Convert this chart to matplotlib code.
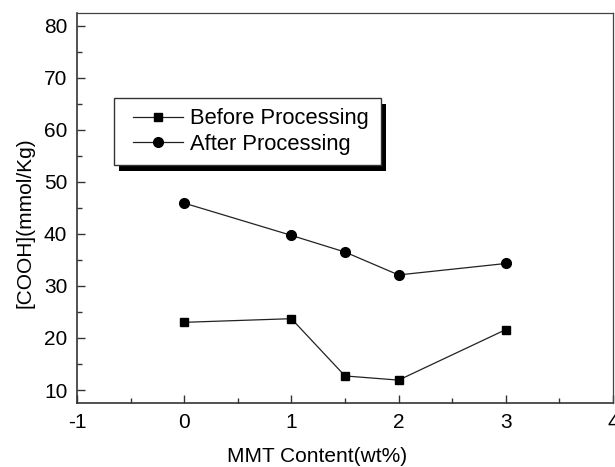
import matplotlib
matplotlib.use('Agg')
import matplotlib.pyplot as plt
from matplotlib.patches import Rectangle
from matplotlib.ticker import MultipleLocator

plt.rcParams['font.family'] = ['Liberation Sans', 'DejaVu Sans']
plt.rcParams['axes.unicode_minus'] = False

mmt = [0, 1, 1.5, 2, 3]
before = [23.0, 23.7, 12.7, 11.9, 21.6]
after = [45.9, 39.7, 36.5, 32.1, 34.3]

fig = plt.figure(figsize=(6.15, 4.67), dpi=100)
ax = fig.add_axes([0.1252, 0.137, 0.8715, 0.835])

ax.plot(mmt, before, marker='s', color='#222222', mfc='black', mec='black',
        ms=6, lw=0.9, label='Before Processing')
ax.plot(mmt, after, marker='o', color='#222222', mfc='black', mec='black',
        ms=7, lw=0.9, label='After Processing')

ax.set_xlim(-1, 4)
ax.set_ylim(7.5, 82.4)
ax.xaxis.set_major_locator(MultipleLocator(1))
ax.xaxis.set_minor_locator(MultipleLocator(0.5))
ax.yaxis.set_minor_locator(MultipleLocator(5))
ax.set_yticks(range(10, 81, 10))

ax.tick_params(which='both', direction='in', top=False, right=False,
               labelsize=15, width=1, color='#333333')
ax.tick_params(which='major', length=6, pad=7)
ax.tick_params(which='minor', length=3.5)

for side in ['top', 'right']:
    ax.spines[side].set_linewidth(0.9)
    ax.spines[side].set_color('#444444')
for side in ['left', 'bottom']:
    ax.spines[side].set_linewidth(1.2)
    ax.spines[side].set_color('#333333')

ax.set_xlabel('MMT Content(wt%)', fontsize=15)
ax.set_ylabel('[COOH](mmol/Kg)', fontsize=15)
ax.xaxis.set_label_coords(0.448, -0.113)
ax.yaxis.set_label_coords(-0.08, 0.463)

# legend content without frame; the boxed frame and shadow are drawn below
leg = ax.legend(loc='center left', bbox_to_anchor=(0.1045, 0.696), borderaxespad=0,
                fontsize=15.8, numpoints=1, handlelength=2.3, handletextpad=0.3,
                borderpad=0, labelspacing=0.2, frameon=False)
leg.set_zorder(6)

fig.canvas.draw()
bb = leg.get_window_extent()
inv = fig.transFigure.inverted()
cy = (bb.y0 + bb.y1) / 2
box_l, box_r = bb.x0 - 19, bb.x1 + 12
box_b, box_t = cy - 33.5, cy + 33.5

def fig_rect(x0, y0, x1, y1, **kw):
    (a, b) = inv.transform((x0, y0))
    (c, d) = inv.transform((x1, y1))
    r = Rectangle((a, b), c - a, d - b, transform=fig.transFigure, **kw)
    r.set_clip_on(False)
    ax.add_artist(r)
    return r

# thick black drop shadow, then white frame
fig_rect(box_l + 5, box_b - 6, box_r + 5, box_t - 6, facecolor='black',
         edgecolor='none', zorder=4)
fig_rect(box_l, box_b, box_r, box_t, facecolor='white', edgecolor='#333333',
         lw=1.0, zorder=5)

fig.savefig('out.png', dpi=100)
